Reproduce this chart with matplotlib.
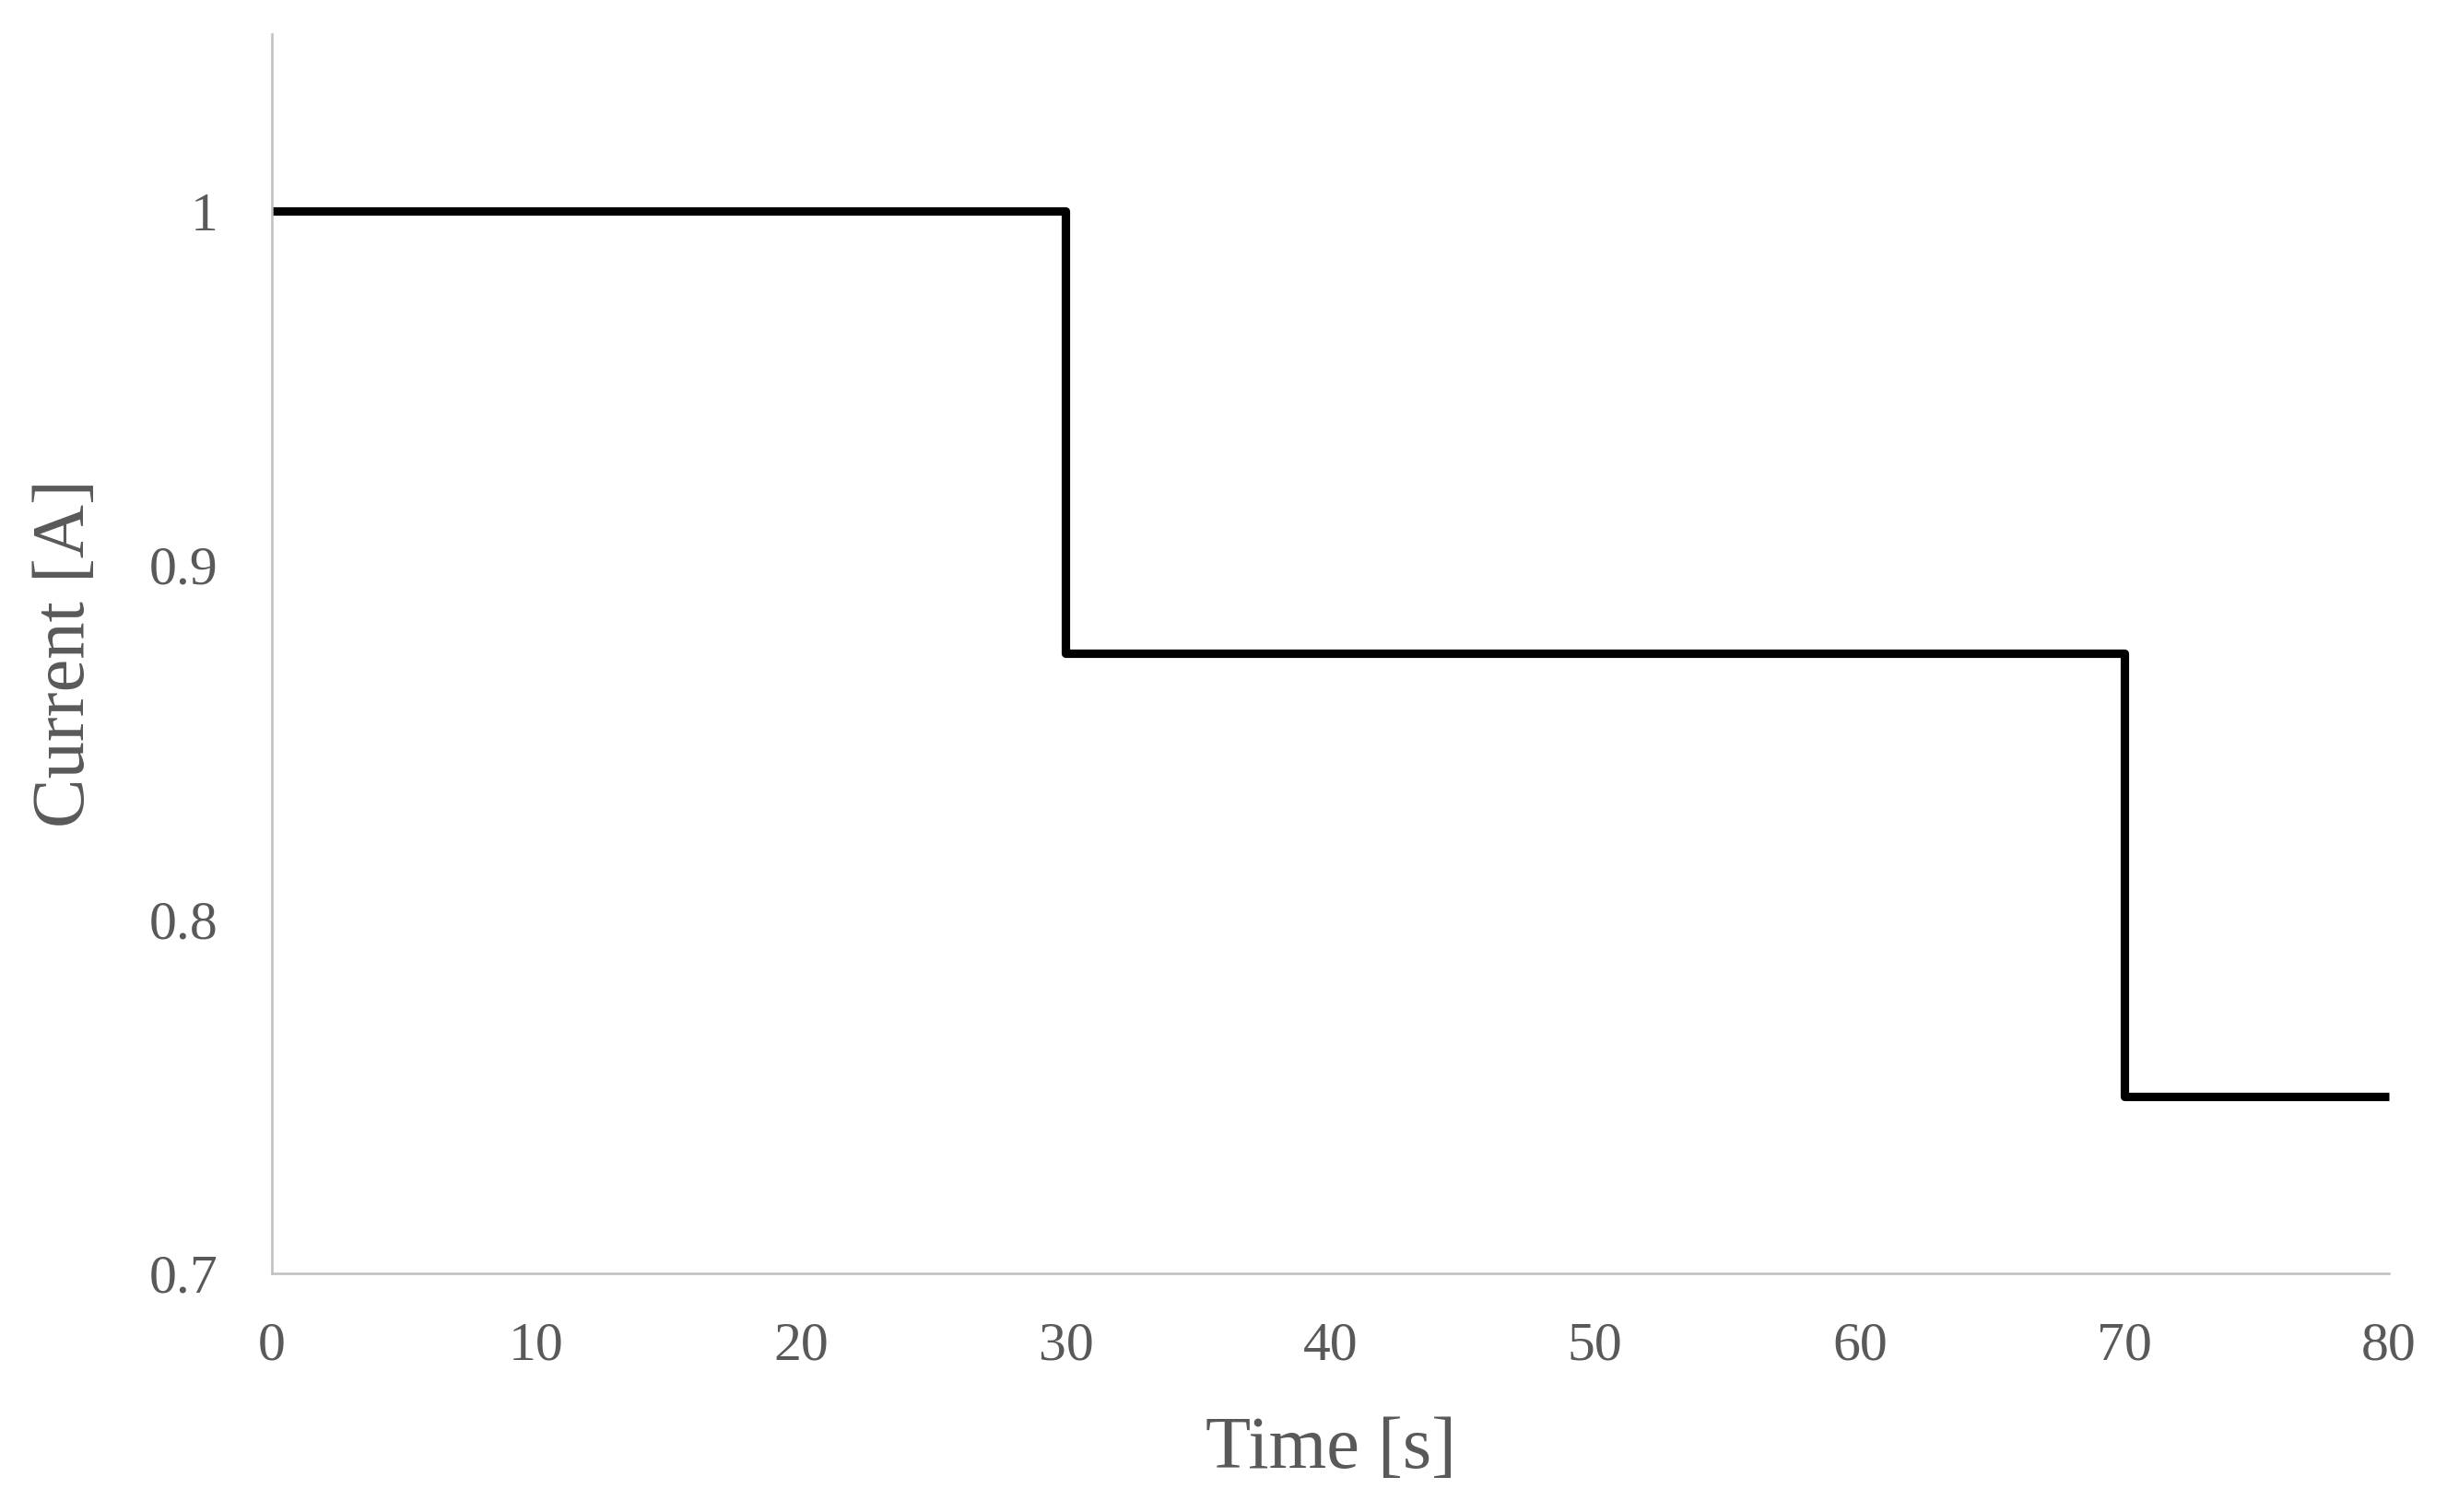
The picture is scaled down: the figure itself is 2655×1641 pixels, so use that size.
import matplotlib
matplotlib.use("Agg")
import matplotlib.pyplot as plt
from matplotlib.ticker import FuncFormatter

time_s = [0, 30, 70, 80]
current_a = [1.0, 0.875, 0.75, 0.75]
x_ticks = [0, 10, 20, 30, 40, 50, 60, 70, 80]
y_ticks = [0.7, 0.8, 0.9, 1.0]

plt.rcParams['font.family'] = ['Liberation Serif', 'DejaVu Serif']
text_color = '#595959'
axis_color = '#bfbfbf'

fig = plt.figure(figsize=(26.55, 16.41), dpi=100)
ax = fig.add_axes([0.1111, 0.1578, 0.8652, 0.8197])

ax.step(time_s, current_a, where='post', color='black', linewidth=6.6,
        solid_joinstyle='round', solid_capstyle='butt', clip_on=False)

ax.set_xlim(0, 80)
ax.set_ylim(0.7, 1.05)
ax.set_xticks(x_ticks)
ax.set_yticks(y_ticks)
ax.yaxis.set_major_formatter(FuncFormatter(lambda v, p: f"{v:g}"))

for s in ['top', 'right']:
    ax.spines[s].set_visible(False)
for s in ['left', 'bottom']:
    ax.spines[s].set_color(axis_color)
    ax.spines[s].set_linewidth(1.8)

ax.tick_params(axis='both', length=0, labelsize=43, labelcolor=text_color)
ax.tick_params(axis='x', pad=38)
ax.tick_params(axis='y', pad=42)

ax.set_xlabel('Time [s]', fontsize=58, color=text_color, va='center')
ax.set_ylabel('Current [A]', fontsize=58, color=text_color, va='center')
ax.xaxis.set_label_coords(0.5, -0.142)
ax.yaxis.set_label_coords(-0.0975, 0.5)

fig.savefig('out.png', dpi=100)
